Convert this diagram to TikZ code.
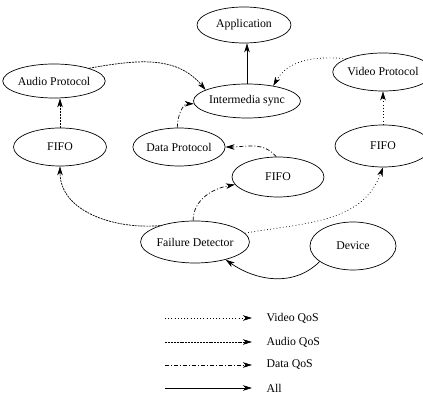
\documentclass[tikz,border=0pt]{standalone}
\usepackage{fontspec}
\setmainfont{Liberation Serif}
\usetikzlibrary{shapes.geometric,arrows.meta}

\tikzset{
  ell/.style={draw,ellipse,inner sep=0pt,line width=0.7pt,
    font=\fontsize{11.8}{14}\selectfont},
  tip/.style={-{Stealth[length=9pt,width=5.5pt,inset=2.5pt]},line width=0.7pt},
  vid/.style={tip,dash pattern=on 0.8pt off 2.4pt},
  aud/.style={tip,dash pattern=on 2pt off 0.9pt},
  dat/.style={tip,dash pattern=on 4pt off 2pt on 1pt off 2pt},
  all/.style={tip}
}

\begin{document}
\begin{tikzpicture}[x=1pt,y=1pt]
  \clip (0,0) rectangle (423,396);
  \node[ell,minimum width=94pt,minimum height=36pt] (App) at (244,371) {Application};
  \node[ell,minimum width=92pt,minimum height=34pt] (Audio) at (54,315) {Audio Protocol};
  \node[ell,minimum width=98pt,minimum height=34pt] (Inter) at (247,295) {Intermedia sync};
  \node[ell,minimum width=98pt,minimum height=38pt] (Video) at (383,324) {Video Protocol};
  \node[ell,minimum width=93pt,minimum height=38pt] (FifoA) at (60,249) {FIFO};
  \node[ell,minimum width=90pt,minimum height=38pt] (DataP) at (179,249) {Data Protocol};
  \node[ell,minimum width=96pt,minimum height=42pt] (FifoV) at (383,250) {FIFO};
  \node[ell,minimum width=92pt,minimum height=40pt] (FifoD) at (278,219) {FIFO};
  \node[ell,minimum width=98pt,minimum height=42pt] (Fail) at (195,154) {Failure Detector};
  \node[ell,minimum width=86pt,minimum height=48pt] (Device) at (353,150) {Device};

  % media streams
  \draw[all] (Inter.north) -- (Inter.north |- App.south);
  \draw[aud] (Audio.20) to[out=10,in=130] (Inter.165);
  \draw[vid] (Video.160) to[out=175,in=60] (Inter.30);
  \draw[dat] (DataP.95) to[out=90,in=180] (Inter.183);
  \draw[dat] (FifoD.95) to[out=130,in=0] (DataP.east);
  \draw[dat] (Fail.95) to[out=90,in=190] (FifoD.190);
  \draw[aud] (FifoA.north) -- (FifoA.north |- Audio.south);
  \draw[vid] (FifoV.north) -- (FifoV.north |- Video.south);
  \draw[aud] (Fail.155) to[out=185,in=-90] (FifoA.south);
  \draw[vid] (Fail.10) to[out=10,in=250] (FifoV.south);
  \draw[all] (Device.205) to[out=225,in=-35] (Fail.-30);

  % key
  \foreach \yy/\st/\lab [count=\i] in {78/vid/Video QoS,54/aud/Audio QoS,31/dat/Data QoS,8/all/All}{
    \node[anchor=west,font=\fontsize{11.8}{14}\selectfont] (key\i) at (263,\yy) {\lab};
    \coordinate (from\i) at (165,\yy);
    \draw[\st] (from\i) -- ([xshift=-11pt]key\i.west);
  }
\end{tikzpicture}
\end{document}
